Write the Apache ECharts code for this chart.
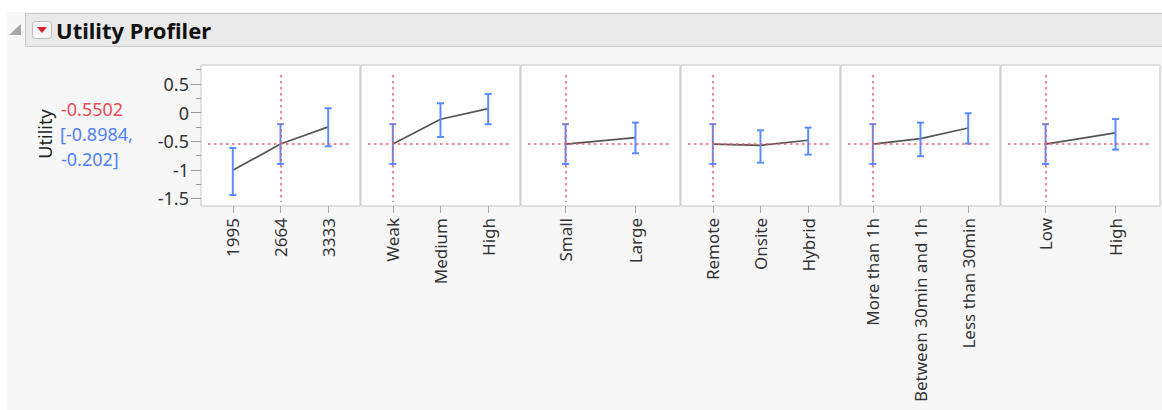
<!DOCTYPE html>
<html>
<head>
<meta charset="utf-8">
<script src="https://cdn.jsdelivr.net/npm/echarts@6/dist/echarts.min.js"></script>
<style>
  html, body { margin: 0; padding: 0; background: #fff; }
  #chart { width: 1162px; height: 410px; }
</style>
</head>
<body>
<div id="chart"></div>
<script>
// ---- Factor levels, utilities and confidence bounds ----
const salaryLevels = ['1995', '2664', '3333'];
const salaryUtility = [-1.01, -0.5502, -0.25];
const salaryLower = [-1.44, -0.8984, -0.59];
const salaryUpper = [-0.62, -0.202, 0.075];

const reputationLevels = ['Weak', 'Medium', 'High'];
const reputationUtility = [-0.5502, -0.117, 0.07];
const reputationLower = [-0.8984, -0.426, -0.205];
const reputationUpper = [-0.202, 0.163, 0.325];

const sizeLevels = ['Small', 'Large'];
const sizeUtility = [-0.5502, -0.437];
const sizeLower = [-0.8984, -0.712];
const sizeUpper = [-0.202, -0.175];

const modeLevels = ['Remote', 'Onsite', 'Hybrid'];
const modeUtility = [-0.5502, -0.572, -0.484];
const modeLower = [-0.8984, -0.875, -0.734];
const modeUpper = [-0.202, -0.31, -0.262];

const commuteLevels = ['More than 1h', 'Between 30min and 1h', 'Less than 30min'];
const commuteUtility = [-0.5502, -0.455, -0.269];
const commuteLower = [-0.8984, -0.764, -0.542];
const commuteUpper = [-0.202, -0.175, -0.012];

const flexibilityLevels = ['Low', 'High'];
const flexibilityUtility = [-0.5502, -0.356];
const flexibilityLower = [-0.8984, -0.647];
const flexibilityUpper = [-0.202, -0.112];

// current setting of each factor (index into its levels)
const currentLevel = [1, 0, 0, 0, 0, 0];
const currentUtilityText = '-0.5502';
const currentIntervalText = ['[-0.8984,', '-0.202]'];
const currentUtility = -0.5502;

const yTickValues = [0.5, 0, -0.5, -1, -1.5];
const yTickLabels = ['0.5', '0', '-0.5', '-1', '-1.5'];
const yMinorTickValues = [0.75, 0.25, -0.25, -0.75, -1.25];
const yMin = -1.633, yMax = 0.832;

// ---- Layout ----
const FONT = 'Noto Sans';
const panelLeft = 201, panelStep = 160, panelTop = 65, panelHeight = 141;
const panelWidth = 159;

const panels = [
  { levels: salaryLevels, utility: salaryUtility, lower: salaryLower, upper: salaryUpper },
  { levels: reputationLevels, utility: reputationUtility, lower: reputationLower, upper: reputationUpper },
  { levels: sizeLevels, utility: sizeUtility, lower: sizeLower, upper: sizeUpper },
  { levels: modeLevels, utility: modeUtility, lower: modeLower, upper: modeUpper },
  { levels: commuteLevels, utility: commuteUtility, lower: commuteLower, upper: commuteUpper },
  { levels: flexibilityLevels, utility: flexibilityUtility, lower: flexibilityLower, upper: flexibilityUpper }
];

// horizontal padding (fraction of panel width) before the first / after the last level
function edgeFraction(n) { return n === 2 ? 0.28 : 0.2; }

const grids = [], xAxes = [], yAxes = [], series = [];

panels.forEach((p, i) => {
  const n = p.levels.length;
  const m = edgeFraction(n);
  const span = (n - 1) / (1 - 2 * m);
  const xMin = -m * span, xMax = xMin + span;
  const idx = p.levels.map((_, k) => k);
  const ySpan = yMax - yMin;

  grids.push({
    left: panelLeft + panelStep * i, top: panelTop,
    width: panelWidth, height: panelHeight,
    outerBoundsMode: 'none', containLabel: false,
    show: true, backgroundColor: '#ffffff',
    borderColor: '#c4c4c4', borderWidth: 1
  });

  xAxes.push({
    gridIndex: i, type: 'value', min: xMin, max: xMax, position: 'bottom',
    axisLine: { show: false, onZero: false }, splitLine: { show: false },
    axisTick: { show: true, customValues: idx, length: 7, lineStyle: { color: '#a8a8a8', width: 1 } },
    axisLabel: {
      show: true, customValues: idx, rotate: 90, margin: 12,
      formatter: v => p.levels[Math.round(v)],
      fontFamily: FONT, fontSize: 17, color: '#333'
    }
  });

  yAxes.push({
    gridIndex: i, type: 'value', min: yMin, max: yMax, position: 'left',
    axisLine: { show: false, onZero: false }, splitLine: { show: false },
    axisTick: { show: i === 0, customValues: yTickValues, length: 10, lineStyle: { color: '#9a9a9a' } },
    axisLabel: {
      show: i === 0, customValues: yTickValues, margin: 12,
      formatter: v => yTickLabels[yTickValues.indexOf(v)] ?? String(v),
      fontFamily: FONT, fontSize: 18, color: '#333'
    }
  });

  const xLo = xMin + span * 7 / panelWidth;
  const xHi = xMax - span * 9 / panelWidth;
  const yTopRef = yMax - ySpan * 10 / panelHeight;
  const yBotRef = yMin + ySpan * 4 / panelHeight;
  const cur = currentLevel[i];

  // utility profile trace with the current-value crosshair
  series.push({
    type: 'line', xAxisIndex: i, yAxisIndex: i, z: 2,
    data: idx.map(k => [k, p.utility[k]]),
    symbol: 'none', silent: true, animation: false,
    lineStyle: { color: '#555555', width: 1.7 },
    markLine: {
      silent: true, symbol: 'none', animation: false,
      label: { show: false },
      lineStyle: { color: 'rgba(240,88,108,0.75)', type: [2.5, 3.5], width: 2 },
      data: [
        [{ coord: [xLo, currentUtility] }, { coord: [xHi, currentUtility] }],
        [{ coord: [cur, yTopRef] }, { coord: [cur, yBotRef] }]
      ]
    }
  });

  // confidence interval bars
  series.push({
    type: 'custom', xAxisIndex: i, yAxisIndex: i, z: 3, silent: true, animation: false,
    data: idx.map(k => [k, p.lower[k], p.upper[k]]),
    encode: { x: 0, y: [1, 2] },
    renderItem: (params, api) => {
      const x = api.value(0);
      const a = api.coord([x, api.value(1)]);
      const b = api.coord([x, api.value(2)]);
      const cap = 3.5;
      const style = { stroke: '#5b8dff', lineWidth: 2 };
      return {
        type: 'group',
        children: [
          { type: 'line', shape: { x1: a[0], y1: a[1], x2: b[0], y2: b[1] }, style },
          { type: 'line', shape: { x1: a[0] - cap, y1: a[1], x2: a[0] + cap, y2: a[1] }, style },
          { type: 'line', shape: { x1: b[0] - cap, y1: b[1], x2: b[0] + cap, y2: b[1] }, style }
        ]
      };
    }
  });
});

// minor ticks on the utility axis
yAxes.push({
  gridIndex: 0, type: 'value', min: yMin, max: yMax, position: 'left',
  axisLine: { show: false, onZero: false }, splitLine: { show: false }, axisLabel: { show: false },
  axisTick: { show: true, customValues: yMinorTickValues, length: 5, lineStyle: { color: '#9a9a9a' } }
});

const chart = echarts.init(document.getElementById('chart'), null, { renderer: 'svg' });
chart.setOption({
  animation: false,
  backgroundColor: '#f7f7f7',
  grid: grids,
  xAxis: xAxes,
  yAxis: yAxes,
  series: series,
  graphic: { elements: [
    // outer white margins
    { type: 'rect', shape: { x: 0, y: 0, width: 1162, height: 12 }, style: { fill: '#ffffff' }, silent: true },
    { type: 'rect', shape: { x: 0, y: 0, width: 7, height: 410 }, style: { fill: '#ffffff' }, silent: true },
    // outline header
    { type: 'rect', shape: { x: 25.5, y: 13.5, width: 1140, height: 33 }, style: { fill: '#e9e9e9', stroke: '#c8c8c8', lineWidth: 1 }, silent: true },
    { type: 'polygon', shape: { points: [[9, 35], [21, 35], [21, 24]] }, style: { fill: '#a6a6a6' }, silent: true },
    { type: 'rect', shape: { x: 32.5, y: 21.5, width: 19, height: 17, r: 3 }, style: { fill: '#f6f6f6', stroke: '#bcbcbc', lineWidth: 1 }, silent: true },
    { type: 'polygon', shape: { points: [[37, 27], [47, 27], [42, 33]] }, style: { fill: '#e01f2b' }, silent: true },
    { type: 'text', x: 56, y: 30, style: { text: 'Utility Profiler', fontFamily: FONT, fontSize: 22, fontWeight: 'bold', fill: '#111', verticalAlign: 'middle' }, silent: true },
    // response label and current value with its interval
    { type: 'text', x: 45, y: 134, rotation: Math.PI / 2, style: { text: 'Utility', fontFamily: FONT, fontSize: 18, fill: '#222', align: 'center', verticalAlign: 'middle' }, silent: true },
    { type: 'text', x: 61, y: 109, style: { text: currentUtilityText, fontFamily: FONT, fontSize: 18, fill: '#ee4a54', verticalAlign: 'middle' }, silent: true },
    { type: 'text', x: 60, y: 134, style: { text: currentIntervalText[0], fontFamily: FONT, fontSize: 18, fill: '#4f7fff', verticalAlign: 'middle' }, silent: true },
    { type: 'text', x: 61, y: 159, style: { text: currentIntervalText[1], fontFamily: FONT, fontSize: 18, fill: '#4f7fff', verticalAlign: 'middle' }, silent: true }
  ]}
});
</script>
</body>
</html>
